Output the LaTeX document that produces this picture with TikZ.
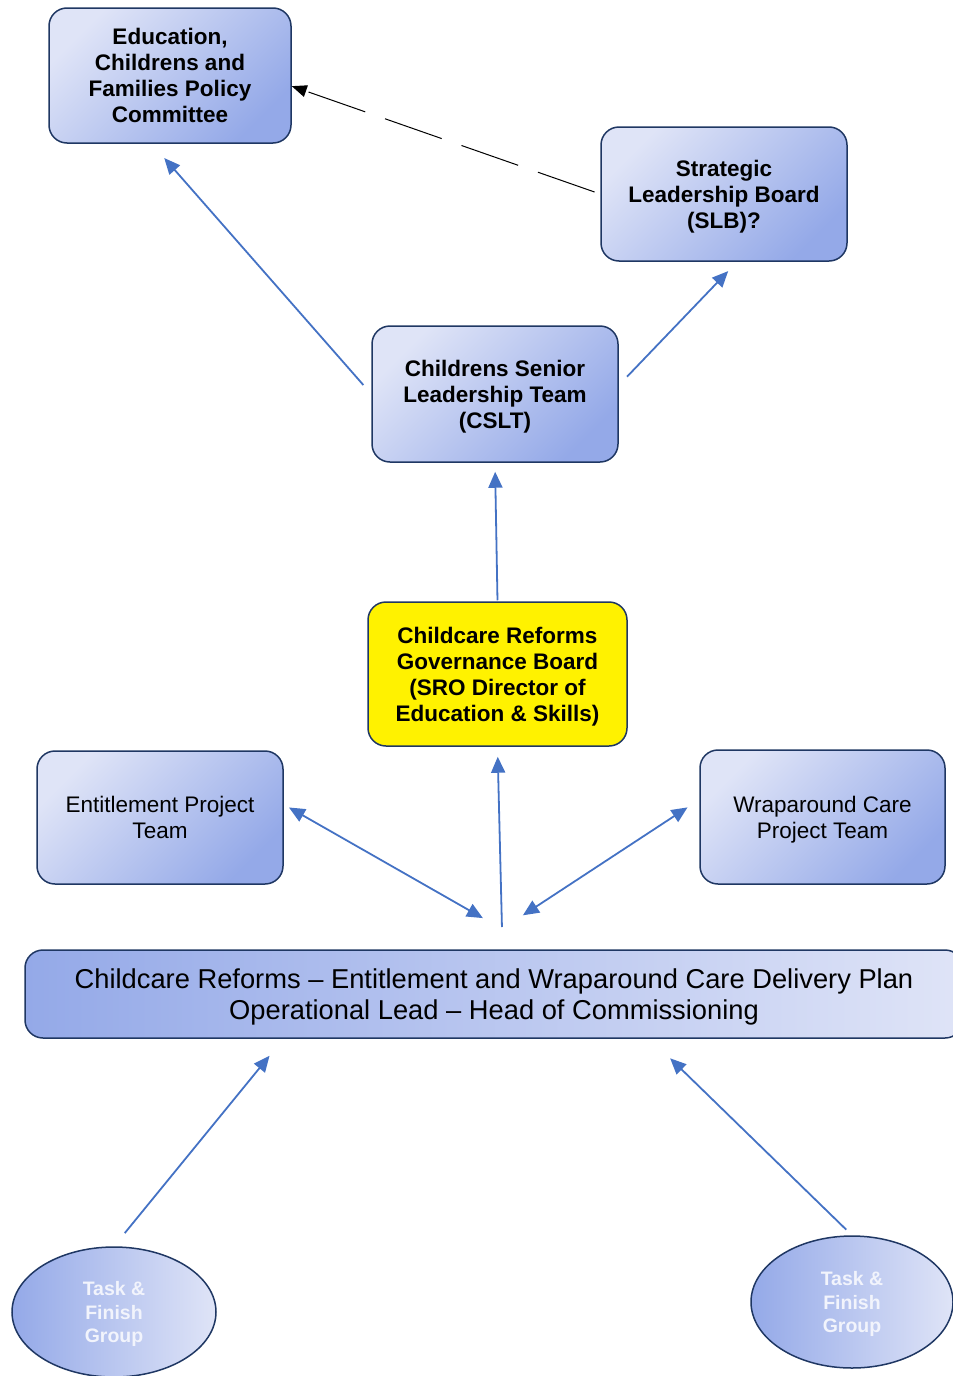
\documentclass[tikz,border=0pt]{standalone}
\usepackage{fontspec}
\setmainfont{Liberation Sans}
\usetikzlibrary{arrows.meta,shapes.geometric}
\definecolor{boxline}{HTML}{1F3763}
\definecolor{boxlight}{HTML}{DFE4F7}
\definecolor{boxdark}{HTML}{94A9E8}
\definecolor{arrowblue}{HTML}{4472C4}
\definecolor{ovaltext}{HTML}{F2F4FC}
\tikzset{
  frame/.style={draw=boxline, line width=1.5pt, rounded corners=18pt,
    minimum width=246pt, minimum height=134pt, inner sep=0pt, align=center,
    text depth=-3pt, font=\fontsize{22.5}{26}\selectfont\bfseries},
  board/.style={frame, top color=boxlight, bottom color=boxdark, shading angle=45},
  team/.style={board, font=\fontsize{22.5}{26}\selectfont},
  oval/.style={ellipse, draw=boxline, line width=1.5pt,
    left color=boxdark, right color=boxlight, minimum width=204pt,
    minimum height=130pt, inner sep=0pt, align=center, text=ovaltext,
    text depth=-3pt, font=\fontsize{19.5}{23.5}\selectfont\bfseries},
  link/.style={draw=arrowblue, line width=1.8pt, -{Triangle[length=16pt,width=14pt]}},
  twoway/.style={link, {Triangle[length=16pt,width=14pt]}-{Triangle[length=16pt,width=14pt]}}
}
\begin{document}
\begin{tikzpicture}[x=1pt,y=-1pt]
  \useasboundingbox (0,0) rectangle (953,1376);

  \node[board, minimum width=242pt, minimum height=135pt] (edu) at (170,75.5) {Education,\\Childrens and\\Families Policy\\Committee};
  \node[board] (slb) at (724,194) {Strategic\\Leadership Board\\(SLB)?};
  \node[board, minimum height=136pt] (cslt) at (495,394) {Childrens Senior\\Leadership Team\\(CSLT)};
  \node[frame, fill=yellow, minimum width=259pt, minimum height=144pt] (crgb) at (497.5,674) {Childcare Reforms\\Governance Board\\(SRO Director of\\Education \& Skills)};
  \node[team, minimum height=133pt] (ent) at (160,817.5) {Entitlement Project\\Team};
  \node[team, minimum width=245pt] (wrap) at (822.5,817) {Wraparound Care\\Project Team};
  \node[frame, left color=boxdark, right color=boxlight, minimum width=938pt, minimum height=88pt,
    font=\fontsize{27.3}{30.5}\selectfont] (plan) at (494,994) {Childcare Reforms -- Entitlement and Wraparound Care Delivery Plan\\Operational Lead -- Head of Commissioning};
  \node[oval] (tfl) at (114,1312) {Task \&\\Finish\\Group};
  \node[oval, minimum width=202pt, minimum height=132pt] (tfr) at (852,1302) {Task \&\\Finish\\Group};
  \coordinate (hub) at (502,929);

  \draw[link, shorten <=12pt, shorten >=19pt] (cslt.west) -- (edu.255);
  \draw[link, shorten <=12pt, shorten >=13pt] (cslt.4) -- (slb.281);
  \draw[link, shorten <=1pt, shorten >=9pt] (crgb.north) -- (cslt.south);
  \draw[link, shorten <=2pt, shorten >=10pt] (hub) -- (crgb.south);
  \draw[twoway, shorten <=22pt, shorten >=6pt] (hub) -- (ent.6);
  \draw[twoway, shorten <=25pt, shorten >=14pt] (hub) -- (wrap.172);
  \draw[link, shorten <=17pt, shorten >=22pt] (tfl.north) -- (plan.192);
  \draw[link, shorten <=8pt, shorten >=28pt] (tfr.north) -- (plan.344);
  \draw[black, line width=1pt, dash pattern=on 60pt off 21pt, -{Triangle[length=15pt,width=12pt]}, shorten <=6pt] (slb.west) -- (edu.-5);
\end{tikzpicture}
\end{document}
